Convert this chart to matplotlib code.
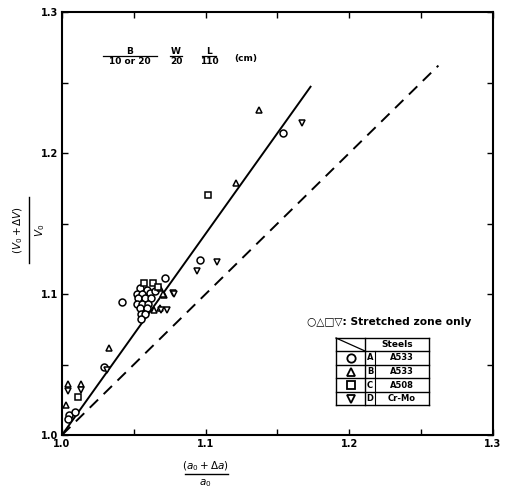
import matplotlib
matplotlib.use("Agg")
import matplotlib.pyplot as plt
from matplotlib.lines import Line2D

# ---- data ----
circ_x = [1.154, 1.096, 1.072, 1.042, 1.054, 1.059, 1.052, 1.056, 1.061, 1.065, 1.053, 1.058,
          1.062, 1.052, 1.056, 1.060, 1.054, 1.059, 1.055, 1.058, 1.055, 1.029, 1.005, 1.009, 1.004]
circ_y = [1.214, 1.124, 1.111, 1.094, 1.104, 1.103, 1.100, 1.100, 1.101, 1.102, 1.097, 1.097,
          1.097, 1.093, 1.093, 1.093, 1.090, 1.090, 1.086, 1.086, 1.082, 1.048, 1.014, 1.016, 1.011]
tri_x = [1.137, 1.121, 1.071, 1.068, 1.070, 1.064, 1.068, 1.033, 1.004, 1.013, 1.003]
tri_y = [1.2305, 1.179, 1.099, 1.104, 1.100, 1.089, 1.090, 1.062, 1.036, 1.036, 1.021]
sq_x = [1.1016, 1.057, 1.063, 1.067, 1.011]
sq_y = [1.170, 1.108, 1.108, 1.105, 1.027]
tdn_x = [1.167, 1.108, 1.094, 1.077, 1.078, 1.073, 1.069, 1.031, 1.004, 1.013]
tdn_y = [1.221, 1.123, 1.116, 1.101, 1.100, 1.089, 1.089, 1.046, 1.031, 1.032]

fit_x = [1.0, 1.173]
fit_y = [1.0, 1.247]
eq_x = [1.0, 1.262]
eq_y = [1.0, 1.262]

ticks = [1.0, 1.1, 1.2, 1.3]
tick_labels = ["1.0", "1.1", "1.2", "1.3"]

steel_syms = ["o", "^", "s", "v"]
steel_letters = ["A", "B", "C", "D"]
steel_names = ["A533", "A533", "A508", "Cr-Mo"]

# ---- figure ----
plt.rcParams['font.family'] = ['DejaVu Sans']
fig = plt.figure(figsize=(5.08, 4.90), dpi=100)
ax = fig.add_axes([62/508, 1 - 435/490, 431/508, 423/490])
ax.set_xlim(1.0, 1.3)
ax.set_ylim(1.0, 1.3)

ax.plot(fit_x, fit_y, color="black", lw=1.4)
ax.plot(eq_x, eq_y, color="black", lw=1.4, dashes=(6, 4))

mk = dict(linestyle="none", markerfacecolor="white", markeredgecolor="black",
          markeredgewidth=1.1, markersize=5)
ax.plot(circ_x, circ_y, marker="o", **mk)
ax.plot(tri_x, tri_y, marker="^", **mk)
ax.plot(sq_x, sq_y, marker="s", **mk)
ax.plot(tdn_x, tdn_y, marker="v", **mk)

ax.set_xticks(ticks)
ax.set_yticks(ticks)
ax.set_xticklabels(tick_labels, fontsize=7, fontweight="bold")
ax.set_yticklabels(tick_labels, fontsize=7, fontweight="bold")
ax.set_xticks([1.05, 1.15, 1.25], minor=True)
ax.set_yticks([1.05, 1.15, 1.25], minor=True)
ax.tick_params(which="both", direction="in", top=True, right=True, length=4, width=1)
ax.tick_params(axis="both", pad=3)
for s in ax.spines.values():
    s.set_linewidth(1.5)

# axis labels as fractions
fig.text(205/508, 1 - 466/490, r"$(a_0 + \Delta a)$", ha="center", va="center", fontsize=7.5)
fig.add_artist(Line2D([185/508, 228/508], [1 - 474/490, 1 - 474/490], color="black", lw=1))
fig.text(205/508, 1 - 483/490, r"$a_0$", ha="center", va="center", fontsize=7.5)

fig.text(18/508, 1 - 230/490, r"$(V_0 + \Delta V)$", ha="center", va="center", rotation=90, fontsize=7.5)
fig.add_artist(Line2D([29/508, 29/508], [1 - 197/490, 1 - 263/490], color="black", lw=1))
fig.text(40/508, 1 - 230/490, r"$V_0$", ha="center", va="center", rotation=90, fontsize=7.5)

# top annotation (specimen dimensions)
def frac(x, num, den, w):
    fig.text(x/508, 1 - 51/490, num, ha="center", va="center", fontsize=6.5, fontweight="bold")
    fig.add_artist(Line2D([(x - w/2)/508, (x + w/2)/508], [1 - 56/490, 1 - 56/490], color="black", lw=0.9))
    fig.text(x/508, 1 - 62/490, den, ha="center", va="center", fontsize=6.5, fontweight="bold")

frac(130, "B", "10 or 20", 54)
frac(176, "W", "20", 12)
frac(209, "L", "110", 14)
fig.text(246/508, 1 - 59/490, "(cm)", ha="center", va="center", fontsize=6.5, fontweight="bold")

# stretched-zone note
fig.text(307/508, 1 - 322/490, "○△□▽: Stretched zone only", ha="left", va="center",
         fontsize=7.7, fontweight="bold")

# steel table (figure pixel coordinates)
def fx(p):
    return p/508
def fy(p):
    return 1 - p/490

left, c1, c2, right = 336, 365, 375, 429
rows = [338, 351, 365, 378, 392, 405]
for yv in rows:
    fig.add_artist(Line2D([fx(left), fx(right)], [fy(yv), fy(yv)], color="black", lw=1))
for xv in [left, right]:
    fig.add_artist(Line2D([fx(xv), fx(xv)], [fy(rows[0]), fy(rows[-1])], color="black", lw=1))
for xv in [c1]:
    fig.add_artist(Line2D([fx(xv), fx(xv)], [fy(rows[0]), fy(rows[-1])], color="black", lw=1))
fig.add_artist(Line2D([fx(c2), fx(c2)], [fy(rows[1]), fy(rows[-1])], color="black", lw=0.8))
fig.add_artist(Line2D([fx(left), fx(c1)], [fy(rows[0]), fy(rows[1])], color="black", lw=0.9))
fig.text(fx((c1 + right) / 2), fy((rows[0] + rows[1]) / 2), "Steels", ha="center", va="center",
         fontsize=6.5, fontweight="bold")
for i in range(4):
    yc = (rows[i + 1] + rows[i + 2]) / 2
    fig.add_artist(Line2D([fx((left + c1) / 2)], [fy(yc)], marker=steel_syms[i], markersize=6,
                          markerfacecolor="white", markeredgecolor="black", markeredgewidth=1.3,
                          linestyle="none"))
    fig.text(fx((c1 + c2) / 2), fy(yc), steel_letters[i], ha="center", va="center",
             fontsize=6, fontweight="bold")
    fig.text(fx((c2 + right) / 2), fy(yc), steel_names[i], ha="center", va="center",
             fontsize=6, fontweight="bold")

fig.savefig("out.png", dpi=100)
